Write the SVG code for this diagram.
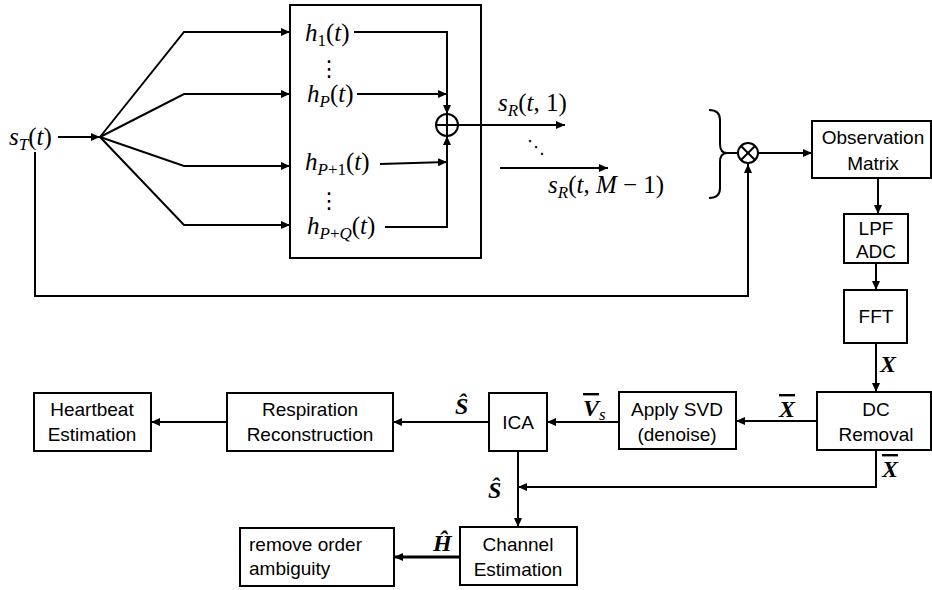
<svg xmlns="http://www.w3.org/2000/svg" width="932" height="590" viewBox="0 0 932 590">
<style>
.box{fill:#fff;stroke:#000;stroke-width:2}
.ln{fill:none;stroke:#000;stroke-width:2}
.lbl{font-family:"Liberation Sans",Arial,sans-serif;font-size:19px;fill:#000;text-anchor:middle}
.m{font-family:"Liberation Serif","Times New Roman",serif;font-size:25px;fill:#000}
.mi{font-style:italic}
.sub{font-size:17px}
.bv{font-family:"Liberation Serif","Times New Roman",serif;font-size:24px;font-weight:bold;font-style:italic;fill:#000}
.dots{font-family:"DejaVu Sans",sans-serif;font-size:22px;fill:#000;text-anchor:middle}
</style>
<defs>
<marker id="ah" markerUnits="userSpaceOnUse" markerWidth="10" markerHeight="8" refX="9" refY="4" orient="auto">
<path d="M0,0 L9,4 L0,8 z" fill="#000"/>
</marker>
</defs>

<g id="connectors">
<line class="ln" x1="58" y1="137" x2="100" y2="137" marker-end="url(#ah)"/>
<polyline class="ln" points="100,137 184,32 290,32" marker-end="url(#ah)"/>
<polyline class="ln" points="100,137 184,94 290,94" marker-end="url(#ah)"/>
<polyline class="ln" points="100,137 184,166 290,166" marker-end="url(#ah)"/>
<polyline class="ln" points="100,137 184,225 290,225" marker-end="url(#ah)"/>
<polyline class="ln" points="354,32 447,32 447,114" marker-end="url(#ah)"/>
<line class="ln" x1="357" y1="94" x2="447" y2="94" marker-end="url(#ah)"/>
<line class="ln" x1="380" y1="164" x2="447" y2="162" marker-end="url(#ah)"/>
<polyline class="ln" points="385,227 447,227 447,136" marker-end="url(#ah)"/>
<line class="ln" x1="458" y1="125" x2="565" y2="125" marker-end="url(#ah)"/>
<line class="ln" x1="500" y1="168" x2="608" y2="168" marker-end="url(#ah)"/>
<path class="ln" d="M709,110 Q720,110 720,120 L720,144 Q720,153 727,153 Q720,153 720,162 L720,188 Q720,198 709,198"/>
<line class="ln" x1="727" y1="153" x2="738" y2="153"/>
<line class="ln" x1="758" y1="153" x2="812" y2="153" marker-end="url(#ah)"/>
<line class="ln" x1="878" y1="178" x2="878" y2="214" marker-end="url(#ah)"/>
<line class="ln" x1="876" y1="263" x2="876" y2="290" marker-end="url(#ah)"/>
<line class="ln" x1="876" y1="343" x2="876" y2="392" marker-end="url(#ah)"/>
<line class="ln" x1="817" y1="421" x2="736" y2="421" marker-end="url(#ah)"/>
<line class="ln" x1="619" y1="422" x2="547" y2="422" marker-end="url(#ah)"/>
<line class="ln" x1="489" y1="422" x2="393" y2="422" marker-end="url(#ah)"/>
<line class="ln" x1="227" y1="422" x2="151" y2="422" marker-end="url(#ah)"/>
<polyline class="ln" points="876,450 876,487 518,487" marker-end="url(#ah)"/>
<line class="ln" x1="518" y1="451" x2="518" y2="527" marker-end="url(#ah)"/>
<line x1="460" y1="557" x2="394" y2="557" stroke="#000" stroke-width="3" marker-end="url(#ah)"/>
<polyline class="ln" points="35,152 35,296 748,296 748,164" marker-end="url(#ah)"/>
</g>

<g id="input">
<text class="m" x="9" y="145"><tspan class="mi">s</tspan><tspan class="sub mi" dy="5">T</tspan><tspan dy="-5">(</tspan><tspan class="mi">t</tspan>)</text>
</g>

<g id="channel-box">
<rect class="box" x="290" y="5" width="191" height="253" style="fill:none"/>
<text class="m" x="305" y="41"><tspan class="mi">h</tspan><tspan class="sub" dy="5">1</tspan><tspan dy="-5">(</tspan><tspan class="mi">t</tspan>)</text>
<text class="dots" x="329" y="76">⋮</text>
<text class="m" x="307" y="102"><tspan class="mi">h</tspan><tspan class="sub mi" dy="5">P</tspan><tspan dy="-5">(</tspan><tspan class="mi">t</tspan>)</text>
<text class="m" x="305" y="170"><tspan class="mi">h</tspan><tspan class="sub" dy="5"><tspan class="mi">P</tspan>+1</tspan><tspan dy="-5">(</tspan><tspan class="mi">t</tspan>)</text>
<text class="dots" x="329" y="208">⋮</text>
<text class="m" x="307" y="234"><tspan class="mi">h</tspan><tspan class="sub" dy="5"><tspan class="mi">P</tspan>+<tspan class="mi">Q</tspan></tspan><tspan dy="-5">(</tspan><tspan class="mi">t</tspan>)</text>
</g>

<g id="adder">
<circle class="ln" cx="447" cy="125" r="11"/>
<line class="ln" x1="436" y1="125" x2="458" y2="125"/>
<line class="ln" x1="447" y1="114" x2="447" y2="136"/>
</g>

<g id="received">
<text class="m" x="498" y="111"><tspan class="mi">s</tspan><tspan class="sub mi" dy="5">R</tspan><tspan dy="-5">(</tspan><tspan class="mi">t</tspan>, 1)</text>
<text class="dots" x="536" y="153" style="font-size:18px">⋱</text>
<text class="m" x="548" y="193"><tspan class="mi">s</tspan><tspan class="sub mi" dy="5">R</tspan><tspan dy="-5">(</tspan><tspan class="mi">t</tspan>, <tspan class="mi">M</tspan> − 1)</text>
</g>

<g id="mixer">
<circle class="ln" cx="748" cy="153" r="10"/>
<line class="ln" x1="741" y1="146" x2="755" y2="160"/>
<line class="ln" x1="755" y1="146" x2="741" y2="160"/>
</g>

<g id="observation">
<rect class="box" x="812" y="121" width="119" height="57"/>
<text class="lbl" x="873" y="144">Observation</text>
<text class="lbl" x="873" y="170">Matrix</text>
</g>

<g id="lpf">
<rect class="box" x="844" y="214" width="64" height="49"/>
<text class="lbl" x="876" y="235">LPF</text>
<text class="lbl" x="876" y="258">ADC</text>
</g>

<g id="fft">
<rect class="box" x="844" y="290" width="63" height="53"/>
<text class="lbl" x="876" y="323">FFT</text>
</g>

<g id="dc">
<rect class="box" x="817" y="392" width="114" height="58"/>
<text class="lbl" x="876" y="416">DC</text>
<text class="lbl" x="876" y="441">Removal</text>
</g>

<g id="svd">
<rect class="box" x="619" y="392" width="117" height="57"/>
<text class="lbl" x="677" y="416">Apply SVD</text>
<text class="lbl" x="677" y="441">(denoise)</text>
</g>

<g id="ica">
<rect class="box" x="489" y="393" width="58" height="58"/>
<text class="lbl" x="518" y="429">ICA</text>
</g>

<g id="respiration">
<rect class="box" x="227" y="393" width="166" height="58"/>
<text class="lbl" x="310" y="416">Respiration</text>
<text class="lbl" x="310" y="441">Reconstruction</text>
</g>

<g id="heartbeat">
<rect class="box" x="34" y="393" width="117" height="58"/>
<text class="lbl" x="92" y="416">Heartbeat</text>
<text class="lbl" x="92" y="441">Estimation</text>
</g>

<g id="channel-est">
<rect class="box" x="460" y="527" width="117" height="58"/>
<text class="lbl" x="518" y="551">Channel</text>
<text class="lbl" x="518" y="576">Estimation</text>
</g>

<g id="remove">
<rect class="box" x="240" y="528" width="154" height="58"/>
<text class="lbl" x="249" y="551" style="text-anchor:start">remove order</text>
<text class="lbl" x="249" y="575" style="text-anchor:start">ambiguity</text>
</g>

<g id="labels">
<text class="bv" x="880" y="372">X</text>
<text class="bv" x="779" y="417" text-decoration="overline">X</text>
<text class="bv" x="882" y="477" text-decoration="overline">X</text>
<text class="bv" x="583" y="416"><tspan text-decoration="overline">V</tspan><tspan class="sub" dy="4" font-weight="normal">s</tspan></text>
<text class="bv" x="455" y="414">Ŝ</text>
<text class="bv" x="488" y="498">Ŝ</text>
<text class="bv" x="433" y="551">Ĥ</text>
</g>
</svg>
